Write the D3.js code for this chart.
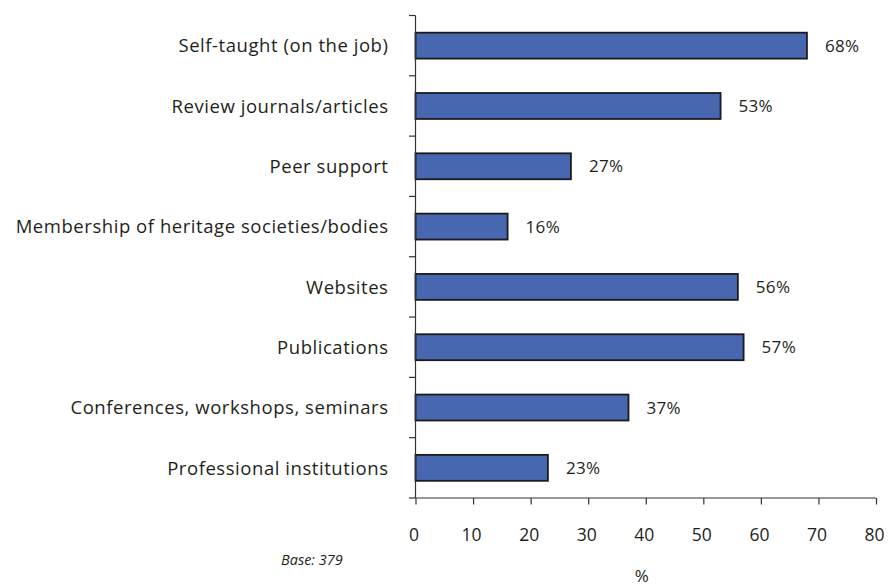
<!DOCTYPE html>
<html>
<head>
<meta charset="utf-8">
<script src="https://cdn.jsdelivr.net/npm/d3@7"></script>
<style>
  html, body { margin: 0; padding: 0; background: #fff; }
  svg { display: block; font-family: "Open Sans", "Noto Sans", sans-serif; }
</style>
</head>
<body>
<svg id="chart" width="894" height="586"></svg>
<script>
// Sources of continuing professional development (share of respondents, %)
const categories = [
  "Self-taught (on the job)",
  "Review journals/articles",
  "Peer support",
  "Membership of heritage societies/bodies",
  "Websites",
  "Publications",
  "Conferences, workshops, seminars",
  "Professional institutions"
];
const values = [68, 53, 27, 16, 56, 57, 37, 23];
const xTicks = [0, 10, 20, 30, 40, 50, 60, 70, 80];
const axisTitle = "%";
const baseNote = "Base: 379";

const svg = d3.select("#chart");
const textColor = "#231f20";
const barFill = "#4767b0";

const plotLeft = 415.5, plotRight = 876, plotTop = 15.5, plotBottom = 498;

const x = d3.scaleLinear().domain([0, 80]).range([plotLeft, plotRight]);
const y = d3.scaleBand().domain(categories).range([plotTop, plotBottom]).paddingInner(0.57).paddingOuter(0.285);

// Bars
svg.append("g").selectAll("rect")
  .data(categories)
  .join("rect")
  .attr("x", x(0))
  .attr("y", d => y(d))
  .attr("width", (d, i) => x(values[i]) - x(0))
  .attr("height", y.bandwidth())
  .attr("fill", barFill)
  .attr("stroke", "#1b1b1b")
  .attr("stroke-width", 1.8);

// Value labels
svg.append("g").selectAll("text")
  .data(categories)
  .join("text")
  .attr("x", (d, i) => x(values[i]) + 18)
  .attr("y", d => y(d) + y.bandwidth() / 2)
  .attr("dy", "0.36em")
  .attr("fill", textColor)
  .style("font-size", "17px")
  .style("letter-spacing", "0.3px")
  .text((d, i) => values[i] + "%");

// Category axis: boundary ticks between bands
const step = (plotBottom - plotTop) / categories.length;
const yBoundaries = d3.range(categories.length + 1).map(i => plotTop + i * step);
const axisG = svg.append("g").attr("stroke", "#333").attr("stroke-width", 1.2);
axisG.append("line").attr("x1", plotLeft).attr("x2", plotLeft).attr("y1", plotTop).attr("y2", plotBottom);
axisG.selectAll("line.yt").data(yBoundaries).join("line").attr("class", "yt")
  .attr("x1", plotLeft - 6.5).attr("x2", plotLeft).attr("y1", d => d).attr("y2", d => d);

// Category labels
svg.append("g").selectAll("text")
  .data(categories)
  .join("text")
  .attr("x", plotLeft - 27)
  .attr("y", d => y(d) + y.bandwidth() / 2)
  .attr("dy", "0.36em")
  .attr("text-anchor", "end")
  .attr("fill", textColor)
  .style("font-size", "18.5px")
  .style("letter-spacing", "0.55px")
  .text(d => d);

// Value axis
const xAxis = d3.axisBottom(x).tickValues(xTicks).tickSize(6.5).tickPadding(24).tickFormat(d3.format("d"));
const xg = svg.append("g").attr("transform", `translate(0,${plotBottom})`).call(xAxis);
xg.select(".domain").attr("stroke", "#333").attr("stroke-width", 1.2).attr("d", `M${plotLeft},0H${plotRight}`);
xg.selectAll(".tick line").attr("stroke", "#333").attr("stroke-width", 1.2);
xg.selectAll(".tick text")
  .attr("fill", textColor)
  .attr("dx", "-2")
  .style("font-size", "17.5px")
  .style("font-family", "'Open Sans', 'Noto Sans', sans-serif");

// Axis title and base note
svg.append("text")
  .attr("x", x(39.3))
  .attr("y", 582)
  .attr("text-anchor", "middle")
  .attr("fill", textColor)
  .style("font-size", "17px")
  .text(axisTitle);

svg.append("text")
  .attr("x", 281)
  .attr("y", 565)
  .attr("fill", textColor)
  .style("font-size", "14.5px")
  .style("font-style", "italic")
  .text(baseNote);
</script>
</body>
</html>
